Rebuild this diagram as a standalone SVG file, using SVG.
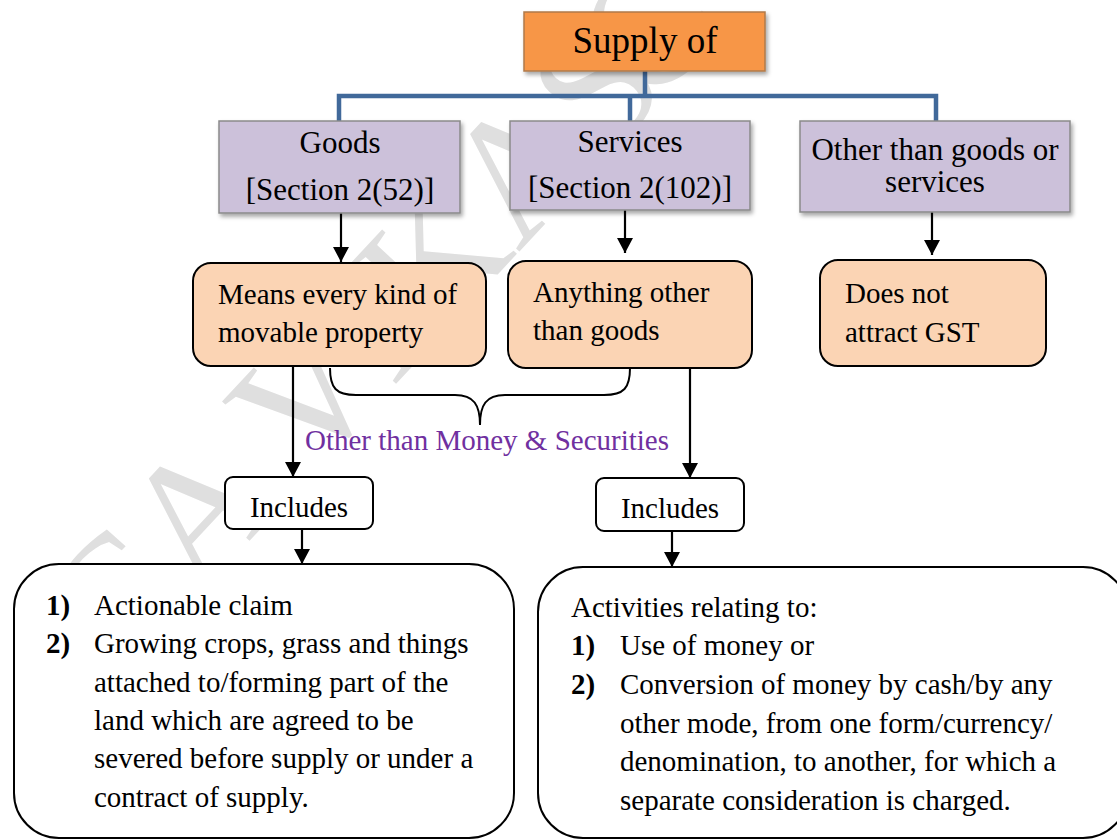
<svg xmlns="http://www.w3.org/2000/svg" width="1117" height="840" viewBox="0 0 1117 840">
  <defs>
    <style>
      .t { font-family: "Liberation Serif", "Times New Roman", serif; fill: #000; }
      .head { font-size: 31px; text-anchor: middle; }
      .body { font-size: 29px; }
      .num { font-weight: bold; }
      .purple { fill: #7030A0; font-size: 29px; }
      .lav { fill: #CCC1DA; stroke: #8a8a8a; stroke-width: 1.5; }
      .peach { fill: #FBD4B4; stroke: #000; stroke-width: 2; }
      .plain { fill: #fff; stroke: #000; stroke-width: 2; }
      .tree { fill: none; stroke: #41699A; stroke-width: 4.5; }
      .arrow { fill: none; stroke: #000; stroke-width: 2.2; marker-end: url(#head); }
      .brace { fill: none; stroke: #000; stroke-width: 2; }
      .mark { font-family: "Liberation Serif", "Times New Roman", serif; font-size: 176px; fill: #dfdfdf; }
    </style>
    <filter id="shadow" x="-10%" y="-10%" width="125%" height="135%">
      <feDropShadow dx="2" dy="3" stdDeviation="2" flood-color="#000" flood-opacity="0.35"/>
    </filter>
    <marker id="head" markerUnits="userSpaceOnUse" markerWidth="16" markerHeight="16" refX="15" refY="8" orient="auto">
      <path d="M0,0 L15,8 L0,16 z" fill="#000"/>
    </marker>
  </defs>

  <rect width="1117" height="840" fill="#fff"/>

  <!-- background watermark, running diagonally -->
  <g id="watermark" transform="rotate(-47 117 683)">
    <text class="mark" x="117" y="683">CA VIKAS</text>
    <text class="mark" x="900" y="683">C</text>
  </g>

  <!-- connectors -->
  <g id="connectors">
    <path class="tree" d="M645,71 V96 M339,122 V96 H936 V122 M630,96 V121"/>
    <line class="arrow" x1="341" y1="213" x2="341" y2="262"/>
    <line class="arrow" x1="625" y1="210" x2="625" y2="253"/>
    <line class="arrow" x1="932" y1="212" x2="932" y2="255"/>
    <line class="arrow" x1="293" y1="366" x2="293" y2="477"/>
    <line class="arrow" x1="302" y1="529" x2="302" y2="564"/>
    <line class="arrow" x1="690" y1="368" x2="690" y2="478"/>
    <line class="arrow" x1="672" y1="531" x2="672" y2="567"/>
    <path class="brace" d="M330,368 C330,388 336,395 356,395 L455,395 C474,395 480,405 480,425 C480,405 486,395 505,395 L604,395 C624,395 630,388 630,368"/>
  </g>

  <g id="supply">
    <rect x="524" y="12" width="241" height="59" fill="#F79646" stroke="#b07a4a" stroke-width="1.5" filter="url(#shadow)"/>
    <text class="t" x="645" y="53" font-size="37" text-anchor="middle">Supply of</text>
  </g>

  <g id="goods">
    <rect class="lav" x="219" y="121" width="241" height="92" filter="url(#shadow)"/>
    <text class="t head" x="340" y="153">Goods</text>
    <text class="t head" x="340" y="200">[Section 2(52)]</text>
  </g>

  <g id="services">
    <rect class="lav" x="510" y="121" width="240" height="89" filter="url(#shadow)"/>
    <text class="t head" x="630" y="152">Services</text>
    <text class="t head" x="630" y="198">[Section 2(102)]</text>
  </g>

  <g id="other">
    <rect class="lav" x="800" y="121" width="270" height="91" filter="url(#shadow)"/>
    <text class="t head" x="935" y="160">Other than goods or</text>
    <text class="t head" x="935" y="192">services</text>
  </g>

  <g id="goods-meaning">
    <rect class="peach" x="193" y="263" width="293" height="103" rx="18"/>
    <text class="t body" x="218" y="304">Means every kind of</text>
    <text class="t body" x="218" y="342">movable property</text>
  </g>

  <g id="services-meaning">
    <rect class="peach" x="508" y="261" width="244" height="107" rx="18"/>
    <text class="t body" x="533" y="302">Anything other</text>
    <text class="t body" x="533" y="340">than goods</text>
  </g>

  <g id="no-gst">
    <rect class="peach" x="820" y="260" width="226" height="106" rx="18"/>
    <text class="t body" x="845" y="303">Does not</text>
    <text class="t body" x="845" y="342">attract GST</text>
  </g>

  <g id="exclusion">
    <text class="t purple" x="305" y="450">Other than Money &amp; Securities</text>
  </g>

  <g id="goods-includes">
    <rect class="plain" x="225" y="477" width="148" height="52" rx="8"/>
    <text class="t body" x="299" y="517" text-anchor="middle">Includes</text>
  </g>

  <g id="services-includes">
    <rect class="plain" x="596" y="478" width="148" height="53" rx="8"/>
    <text class="t body" x="670" y="518" text-anchor="middle">Includes</text>
  </g>

  <g id="goods-list">
    <rect class="plain" x="14" y="564" width="500" height="274" rx="45"/>
    <text class="t body num" x="46" y="615">1)</text>
    <text class="t body" x="94" y="615">Actionable claim</text>
    <text class="t body num" x="46" y="653">2)</text>
    <text class="t body" x="94" y="653">Growing crops, grass and things</text>
    <text class="t body" x="94" y="692">attached to/forming part of the</text>
    <text class="t body" x="94" y="730">land which are agreed to be</text>
    <text class="t body" x="94" y="768">severed before supply or under a</text>
    <text class="t body" x="94" y="807">contract of supply.</text>
  </g>

  <g id="services-list">
    <rect class="plain" x="538" y="567" width="590" height="271" rx="45"/>
    <text class="t body" x="571" y="617">Activities relating to:</text>
    <text class="t body num" x="571" y="655">1)</text>
    <text class="t body" x="620" y="655">Use of money or</text>
    <text class="t body num" x="571" y="694">2)</text>
    <text class="t body" x="620" y="694">Conversion of money by cash/by any</text>
    <text class="t body" x="620" y="733">other mode, from one form/currency/</text>
    <text class="t body" x="620" y="771">denomination, to another, for which a</text>
    <text class="t body" x="620" y="810">separate consideration is charged.</text>
  </g>
</svg>
